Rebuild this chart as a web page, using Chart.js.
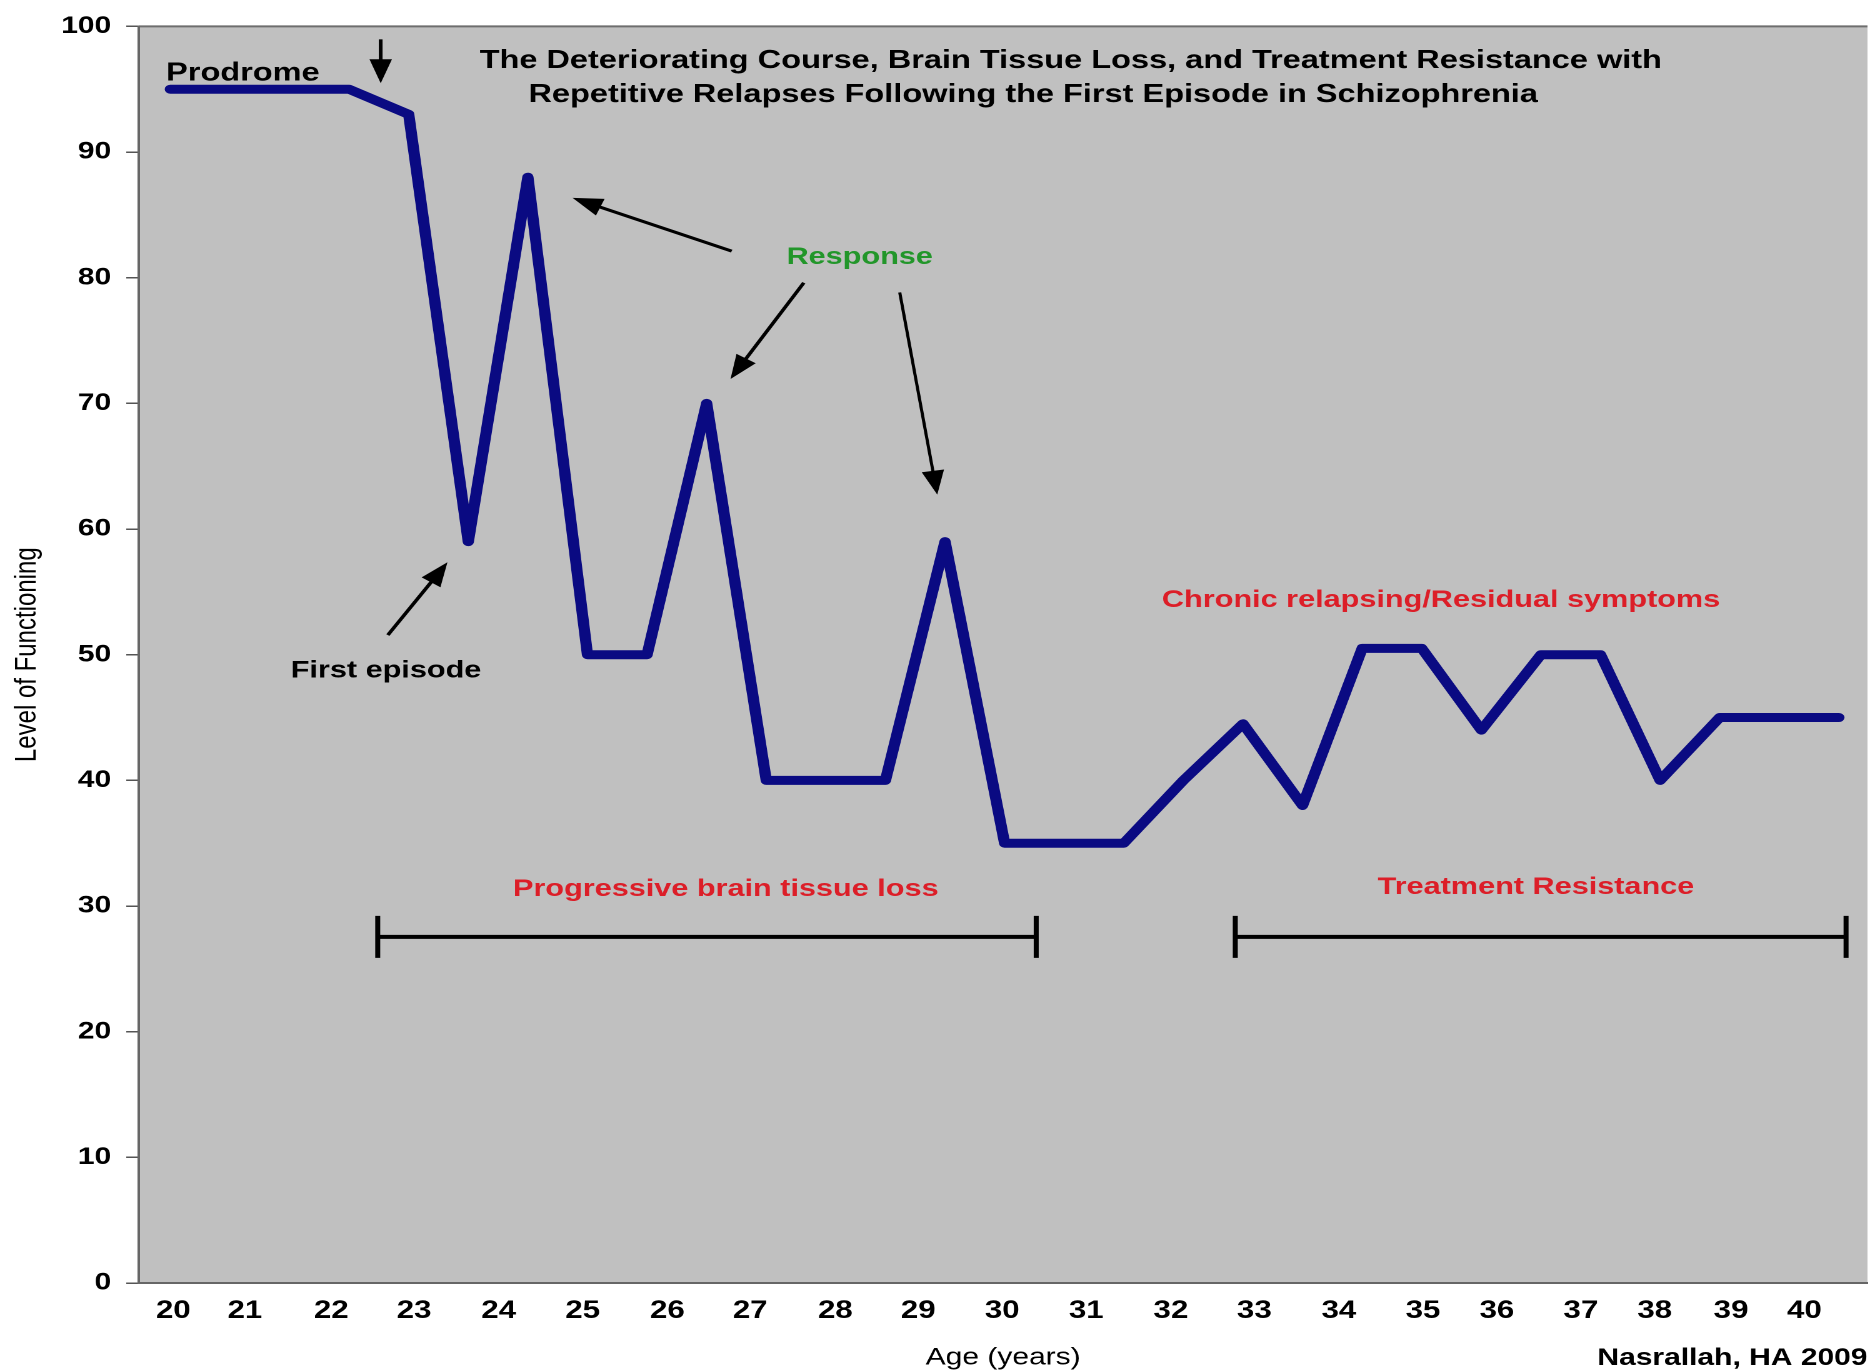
<!DOCTYPE html>
<html>
<head>
<meta charset="utf-8">
<title>Deteriorating course with repetitive relapses</title>
<script src="https://cdn.jsdelivr.net/npm/chart.js@4.4.1/dist/chart.umd.min.js"></script>
<style>
  html, body { margin: 0; padding: 0; background: #fff; overflow: hidden; }
  /* the reference picture is stretched sideways, so the chart is drawn narrow and stretched */
  #wrap { width: 1496px; height: 1371px; transform: scaleX(1.25); transform-origin: 0 0; }
</style>
</head>
<body>
<div id="wrap"><canvas id="course" width="1496" height="1371"></canvas></div>
<script>
// ages shown under the axis, and where each one sits along the 29 measurement steps
var ages = ['20', '21', '22', '23', '24', '25', '26', '27', '28', '29', '30',
            '31', '32', '33', '34', '35', '36', '37', '38', '39', '40'];
var ageTickAt = [0.05, 1.25, 2.7, 4.09, 5.51, 6.92, 8.34, 9.73, 11.16, 12.55, 13.96,
                 15.37, 16.79, 18.19, 19.61, 21.02, 22.26, 23.67, 24.91, 26.19, 27.42];

// level of functioning at each step
var level = [95, 95, 95, 95, 93, 59, 88, 50, 50, 70, 40, 40, 40, 59, 35, 35, 35, 40,
             44.5, 38, 50.5, 50.5, 44, 50, 50, 40, 45, 45, 45];

var ARIAL = "'Liberation Sans', Arial, Helvetica, sans-serif";
var RED = '#dc1e28';
var GREEN = '#22962a';

// texts inside the plot, placed in axis units (x = step, y = level), left edge / baseline
var notes = [
    { text: 'The Deteriorating Course, Brain Tissue Loss, and Treatment Resistance with', x: 5.19, y: 96.67, size: 26, color: '#000' },
    { text: 'Repetitive Relapses Following the First Episode in Schizophrenia', x: 6.01, y: 93.97, size: 26, color: '#000' },
    { text: 'Prodrome', x: -0.07, y: 95.69, size: 26, color: '#000' },
    { text: 'Response', x: 10.34, y: 81.1, size: 24.5, color: GREEN },
    { text: 'First episode', x: 2.02, y: 48.17, size: 24.5, color: '#000' },
    { text: 'Chronic relapsing/Residual symptoms', x: 16.64, y: 53.81, size: 24.5, color: RED },
    { text: 'Progressive brain tissue loss', x: 5.75, y: 30.79, size: 24.5, color: RED },
    { text: 'Treatment Resistance', x: 20.26, y: 30.95, size: 24.5, color: RED }
];

var arrows = [
    { from: [3.53, 98.97], to: [3.53, 95.48], w: 3 },
    { from: [9.42, 82.12], to: [6.75, 86.35], w: 3 },
    { from: [10.63, 79.6], to: [9.40, 71.94], w: 3 },
    { from: [12.24, 78.83], to: [12.87, 62.74], w: 2.5 },
    { from: [3.65, 51.56], to: [4.65, 57.36], w: 3 }
];

var spans = [
    { from: 3.48, to: 14.53, y: 27.54 },
    { from: 17.87, to: 28.12, y: 27.54 }
];

function drawArrow(ctx, x1, y1, x2, y2, w) {
    var a = Math.atan2(y2 - y1, x2 - x1);
    var head = 24, half = 9;
    var bx = x2 - head * Math.cos(a), by = y2 - head * Math.sin(a);
    ctx.lineWidth = w;
    ctx.beginPath();
    ctx.moveTo(x1, y1);
    ctx.lineTo(bx + 2 * Math.cos(a), by + 2 * Math.sin(a));
    ctx.stroke();
    ctx.beginPath();
    ctx.moveTo(x2, y2);
    ctx.lineTo(bx + half * Math.sin(a), by - half * Math.cos(a));
    ctx.lineTo(bx - half * Math.sin(a), by + half * Math.cos(a));
    ctx.closePath();
    ctx.fill();
}

var plotBack = {
    id: 'plotBack',
    beforeDraw: function (chart) {
        var ctx = chart.ctx, a = chart.chartArea;
        ctx.save();
        ctx.fillStyle = '#fff';
        ctx.fillRect(0, 0, chart.width, chart.height);
        ctx.fillStyle = '#c0c0c0';
        ctx.fillRect(a.left, a.top, a.right - a.left, a.bottom - a.top);
        ctx.strokeStyle = '#6e6e6e';
        ctx.lineWidth = 2;
        ctx.beginPath();
        ctx.moveTo(a.left, a.top);
        ctx.lineTo(a.right, a.top);
        ctx.stroke();
        ctx.restore();
    }
};

var annotate = {
    id: 'annotate',
    afterDraw: function (chart) {
        var ctx = chart.ctx, sx = chart.scales.x, sy = chart.scales.y;
        ctx.save();
        ctx.textAlign = 'left';
        ctx.textBaseline = 'alphabetic';
        notes.forEach(function (n) {
            ctx.font = 'bold ' + n.size + 'px ' + ARIAL;
            ctx.fillStyle = n.color;
            ctx.fillText(n.text, sx.getPixelForValue(n.x), sy.getPixelForValue(n.y));
        });

        ctx.strokeStyle = '#000';
        ctx.fillStyle = '#000';
        arrows.forEach(function (r) {
            drawArrow(ctx,
                sx.getPixelForValue(r.from[0]), sy.getPixelForValue(r.from[1]),
                sx.getPixelForValue(r.to[0]), sy.getPixelForValue(r.to[1]), r.w);
        });

        ctx.lineWidth = 4;
        ctx.lineCap = 'butt';
        spans.forEach(function (s) {
            var x1 = sx.getPixelForValue(s.from), x2 = sx.getPixelForValue(s.to);
            var y = sy.getPixelForValue(s.y);
            ctx.beginPath();
            ctx.moveTo(x1, y); ctx.lineTo(x2, y);
            ctx.moveTo(x1, y - 21); ctx.lineTo(x1, y + 21);
            ctx.moveTo(x2, y - 21); ctx.lineTo(x2, y + 21);
            ctx.stroke();
        });

        ctx.font = 'bold 24px ' + ARIAL;
        ctx.textAlign = 'right';
        ctx.fillText('Nasrallah, HA 2009', chart.width - 2, chart.height - 6);
        ctx.restore();
    }
};

Chart.defaults.font.family = ARIAL;
Chart.defaults.color = '#000';

var ctx = document.getElementById('course').getContext('2d');
var myChart = new Chart(ctx, {
    type: 'line',
    data: {
        datasets: [{
            label: 'Level of Functioning',
            data: level.map(function (v, i) { return { x: i, y: v }; }),
            borderColor: '#0a0a82',
            borderWidth: 9,
            borderCapStyle: 'round',
            borderJoinStyle: 'round',
            pointRadius: 0,
            tension: 0
        }]
    },
    options: {
        responsive: false,
        animation: false,
        devicePixelRatio: 2,
        layout: { padding: { left: 0, right: 2, top: 23, bottom: 0 } },
        plugins: {
            legend: { display: false },
            tooltip: { enabled: false }
        },
        scales: {
            x: {
                type: 'linear',
                min: -0.53,
                max: 28.48,
                bounds: 'data',
                grid: { display: false, drawTicks: false },
                border: { display: true, color: '#666', width: 2 },
                afterBuildTicks: function (scale) {
                    scale.ticks = ageTickAt.map(function (v) { return { value: v }; });
                },
                afterFit: function (scale) { scale.height = 88; },
                ticks: {
                    autoSkip: false,
                    maxRotation: 0,
                    padding: 13,
                    color: '#000',
                    font: { size: 25, weight: 'bold' },
                    callback: function (value, index) { return ages[index]; }
                },
                title: {
                    display: true,
                    text: 'Age (years)',
                    color: '#000',
                    font: { size: 24, lineHeight: 1 },
                    padding: { top: 0, bottom: 1 }
                }
            },
            y: {
                min: 0,
                max: 100,
                grid: { drawOnChartArea: false, drawTicks: true, tickLength: 10, color: '#555', lineWidth: 1.5 },
                border: { display: true, color: '#666', width: 2 },
                afterFit: function (scale) { scale.width = 111; },
                ticks: {
                    stepSize: 10,
                    padding: 12,
                    color: '#000',
                    font: { size: 24, weight: 'bold' }
                },
                title: {
                    display: true,
                    text: 'Level of Functioning',
                    color: '#000',
                    font: { size: 24, lineHeight: 1 },
                    padding: { top: 10, bottom: 0 }
                }
            }
        }
    },
    plugins: [plotBack, annotate]
});
</script>
</body>
</html>
